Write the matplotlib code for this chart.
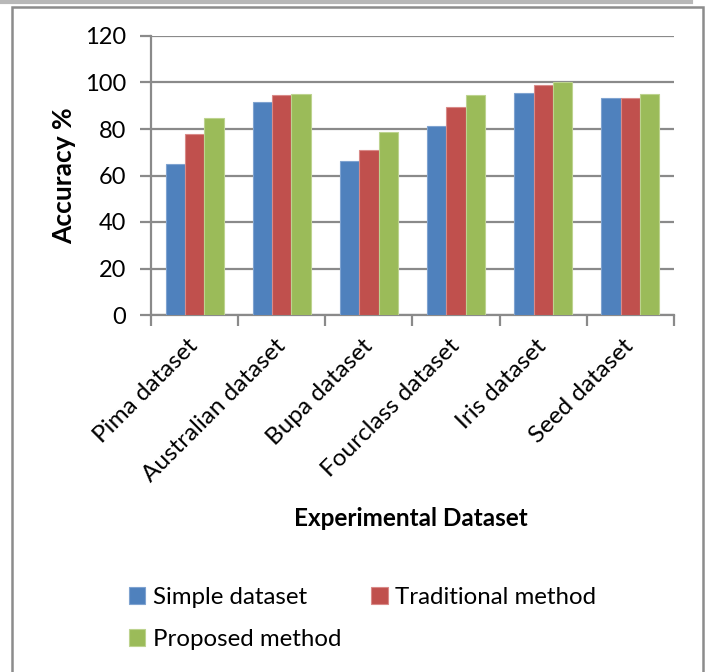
import matplotlib.pyplot as plt
import numpy as np
from matplotlib.patches import Rectangle
from matplotlib.lines import Line2D

datasets = ["Pima dataset", "Australian dataset", "Bupa dataset",
            "Fourclass dataset", "Iris dataset", "Seed dataset"]
simple = [64.9, 91.6, 66.4, 81.3, 95.4, 93.4]
traditional = [78.0, 94.7, 71.1, 89.4, 98.8, 93.4]
proposed = [84.9, 95.2, 78.9, 94.8, 100.0, 95.2]

series = ["Simple dataset", "Traditional method", "Proposed method"]
colors = ["#4F81BD", "#C0504D", "#9BBB59"]
edges = ["#7FA3D0", "#D98A88", "#BDD38F"]

plt.rcParams["font.family"] = ["Lato", "DejaVu Sans"]

W, H = 707, 672
fig = plt.figure(figsize=(W / 100, H / 100), dpi=100)

# outer chart frame and the strip along the top
fig.add_artist(Line2D([0, 691 / W], [1 - 1.5 / H, 1 - 1.5 / H], transform=fig.transFigure,
                      color="#b8b8b8", lw=3))
fig.add_artist(Rectangle((12 / W, -0.05), (703 - 12) / W, 1.05 - 7 / H, transform=fig.transFigure,
                         fill=False, edgecolor="#8c8c8c", lw=1.8))

ax = fig.add_axes([151 / W, 1 - 315 / H, (674 - 151) / W, (315 - 36) / H])

x = np.arange(len(datasets))
w = 0.222
for i, (vals, c, e) in enumerate(zip([simple, traditional, proposed], colors, edges)):
    ax.bar(x + (i - 1) * w, vals, w, color=c, edgecolor=e, lw=0.8, label=series[i], zorder=3)

ax.set_xlim(-0.5, len(datasets) - 0.5)
ax.set_ylim(0, 120)
ax.set_yticks(range(0, 121, 20))
ax.yaxis.grid(True, color="#8a8a8a", lw=1.6, zorder=0)
ax.tick_params(axis="y", length=8, width=1.6, color="#8a8a8a", labelsize=17, pad=10)

ax.set_xticks(x)
ax.set_xticklabels(datasets, rotation=45, ha="right", va="center", rotation_mode="anchor",
                   fontsize=17.5)
ax.tick_params(axis="x", which="major", length=0, pad=20)
ax.set_xticks(np.arange(-0.5, len(datasets)), minor=True)
ax.tick_params(axis="x", which="minor", length=8, width=1.6, color="#8a8a8a")

for side in ["top", "right"]:
    ax.spines[side].set_visible(False)
for side in ["left", "bottom"]:
    ax.spines[side].set_color("#8a8a8a")
    ax.spines[side].set_linewidth(1.6)

ax.set_ylabel("Accuracy %", fontsize=19, fontweight="bold", labelpad=6)
fig.text(411 / W, 1 - 519 / H, "Experimental Dataset", fontsize=17.5, fontweight="bold",
         ha="center", va="center")

handles, labels = ax.get_legend_handles_labels()
order = [0, 2, 1]
fig.legend([handles[k] for k in order], [labels[k] for k in order],
           ncol=2, loc="upper left", bbox_to_anchor=(107 / W, 1 - 565 / H),
           frameon=False, fontsize=17.3, handlelength=0.7, handleheight=0.7,
           handletextpad=0.3, columnspacing=1.25, labelspacing=0.9)

fig.savefig("out.png", dpi=100)
